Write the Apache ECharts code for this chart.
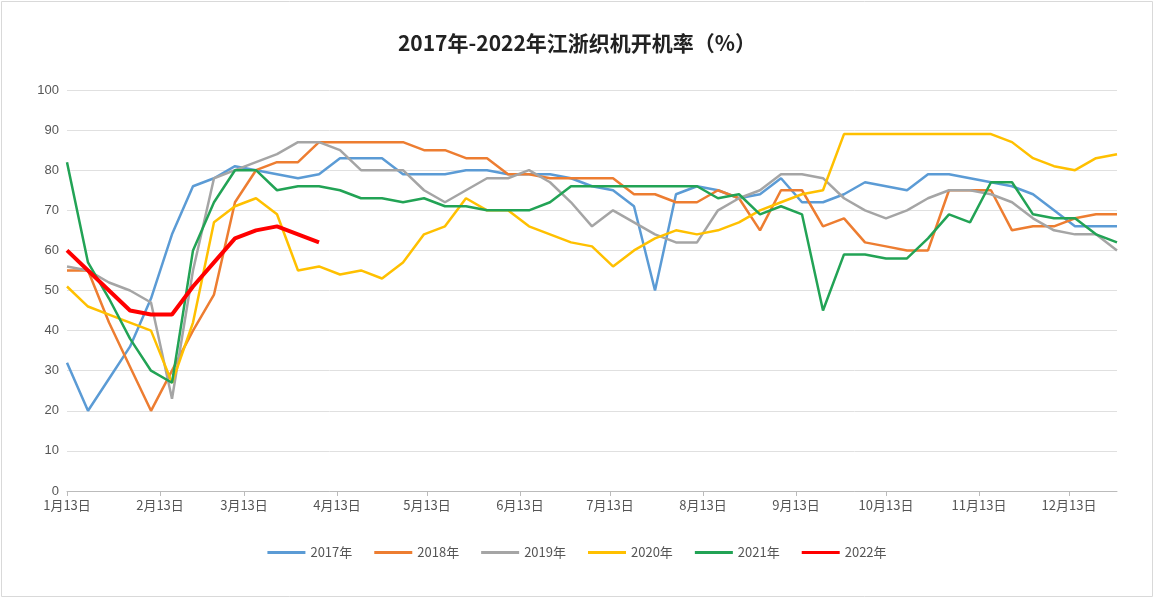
<!DOCTYPE html>
<html>
<head>
<meta charset="utf-8">
<script src="https://cdn.jsdelivr.net/npm/echarts@6/dist/echarts.min.js"></script>
<style>
  html, body { margin: 0; padding: 0; background: #fff; }
  #chart { width: 1154px; height: 598px; }
</style>
</head>
<body>
<div id="chart"></div>
<script>
// 以1月13日为第0天，每周一个数据点
var tickDays = [0, 31, 59, 90, 120, 151, 181, 212, 243, 273, 304, 334];
var tickLabels = ['1月13日', '2月13日', '3月13日', '4月13日', '5月13日', '6月13日',
    '7月13日', '8月13日', '9月13日', '10月13日', '11月13日', '12月13日'];
var years = ['2017年', '2018年', '2019年', '2020年', '2021年', '2022年'];
var colors = ['#5b9bd5', '#ed7d31', '#a5a5a5', '#ffc000', '#22a355', '#ff0000'];

var v2017 = [32, 20, 28, 36, 48, 64, 76, 78, 81, 80, 79, 78, 79, 83, 83, 83, 79, 79, 79, 80, 80, 79, 79, 79, 78, 76, 75, 71, 50, 74, 76, 75, 73, 74, 78, 72, 72, 74, 77, 76, 75, 79, 79, 78, 77, 76, 74, 70, 66, 66, 66];
var v2018 = [55, 55, 42, 31, 20, 30, 40, 49, 72, 80, 82, 82, 87, 87, 87, 87, 87, 85, 85, 83, 83, 79, 79, 78, 78, 78, 78, 74, 74, 72, 72, 75, 73, 65, 75, 75, 66, 68, 62, 61, 60, 60, 75, 75, 75, 65, 66, 66, 68, 69, 69];
var v2019 = [56, 55, 52, 50, 47, 23, 55, 78, 80, 82, 84, 87, 87, 85, 80, 80, 80, 75, 72, 75, 78, 78, 80, 77, 72, 66, 70, 67, 64, 62, 62, 70, 73, 75, 79, 79, 78, 73, 70, 68, 70, 73, 75, 75, 74, 72, 68, 65, 64, 64, 60];
var v2020 = [51, 46, 44, 42, 40, 27, 42, 67, 71, 73, 69, 55, 56, 54, 55, 53, 57, 64, 66, 73, 70, 70, 66, 64, 62, 61, 56, 60, 63, 65, 64, 65, 67, 70, 72, 74, 75, 89, 89, 89, 89, 89, 89, 89, 89, 87, 83, 81, 80, 83, 84];
var v2021 = [82, 57, 48, 38, 30, 27, 60, 72, 80, 80, 75, 76, 76, 75, 73, 73, 72, 73, 71, 71, 70, 70, 70, 72, 76, 76, 76, 76, 76, 76, 76, 73, 74, 69, 71, 69, 45, 59, 59, 58, 58, 63, 69, 67, 77, 77, 69, 68, 68, 64, 62];
var v2022 = [60, 55, 50, 45, 44, 44, 51, 57, 63, 65, 66, 64, 62];
var allValues = [v2017, v2018, v2019, v2020, v2021, v2022];

function toPairs(arr) {
    return arr.map(function (v, i) { return [i * 7, v]; });
}

var myChart = echarts.init(document.getElementById('chart'));

var option = {
    graphic: [{
        type: 'rect',
        shape: { x: 1.5, y: 1.5, width: 1151, height: 595 },
        style: { fill: 'none', stroke: '#d9d9d9', lineWidth: 1 },
        silent: true
    }],
    title: {
        text: '2017年-2022年江浙织机开机率（%）',
        left: 'center',
        top: 28,
        textStyle: { fontSize: 21, fontWeight: 'bold', color: '#222', fontFamily: 'Noto Sans CJK SC' }
    },
    legend: {
        bottom: 34,
        itemWidth: 38,
        itemHeight: 3,
        itemGap: 22,
        icon: 'rect',
        textStyle: { fontSize: 13, color: '#555', fontFamily: 'Noto Sans CJK SC' },
        data: years
    },
    grid: { left: 67, right: 37, top: 90, bottom: 107 },
    xAxis: {
        type: 'value',
        min: 0,
        max: 350,
        splitLine: { show: false },
        axisLine: { lineStyle: { color: '#bbb' } },
        axisTick: { show: true, customValues: tickDays, length: 5, lineStyle: { color: '#bbb' } },
        axisLabel: {
            customValues: tickDays,
            color: '#555',
            fontSize: 13,
            fontFamily: 'Noto Sans CJK SC',
            formatter: function (val) { return tickLabels[tickDays.indexOf(val)]; }
        }
    },
    yAxis: {
        type: 'value',
        min: 0,
        max: 100,
        interval: 10,
        axisLine: { show: false },
        axisTick: { show: false },
        axisLabel: { color: '#555', fontSize: 13 },
        splitLine: { lineStyle: { color: '#e0e0e0' } }
    },
    series: years.map(function (y, i) {
        return {
            name: y,
            type: 'line',
            data: toPairs(allValues[i]),
            symbol: 'none',
            color: colors[i],
            lineStyle: { width: i === 5 ? 4 : 2.5 },
            z: i === 5 ? 10 : 2
        };
    })
};

myChart.setOption(option);
</script>
</body>
</html>
